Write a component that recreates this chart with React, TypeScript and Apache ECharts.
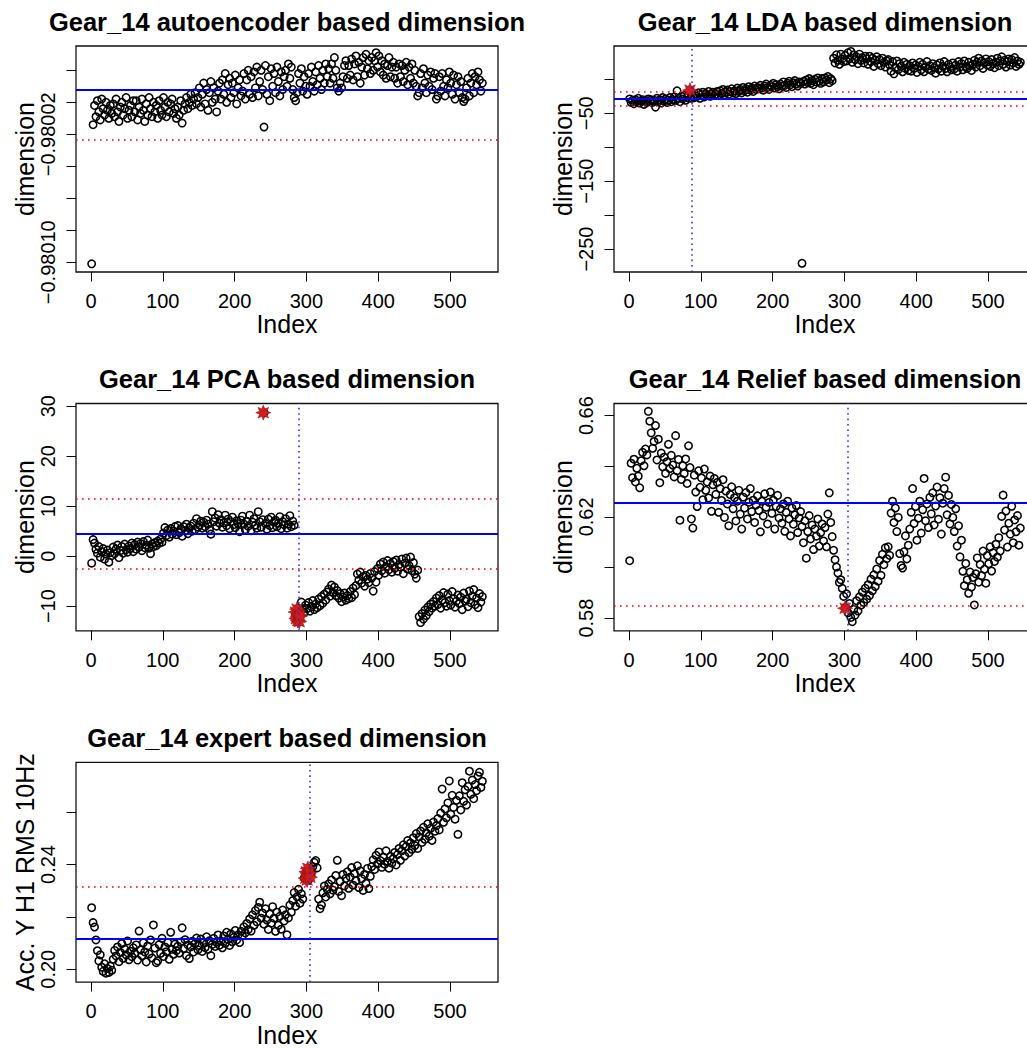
import React, { useEffect, useRef } from "react";
import * as echarts from "echarts";

// ---------- data (Index = INDEX_START + i * INDEX_STEP) ----------
const INDEX_START = 1;
const INDEX_STEP = 2;

const autoencoderDim = [
  -0.980101, -0.980014, -0.980002, -0.980009, -0.979999, -0.980006, -0.980011, -0.979998, -0.980004, -0.980008, -0.98, -0.980005, -0.98001, -0.980002, -0.980007,
  -0.980001, -0.980009, -0.979998, -0.980006, -0.980012, -0.980003, -0.98, -0.980008, -0.980004, -0.979997, -0.98001, -0.980005, -0.980002, -0.980009, -0.979999,
  -0.980006, -0.979999, -0.980011, -0.980003, -0.980007, -0.979998, -0.980005, -0.980012, -0.980001, -0.980008, -0.979997, -0.980004, -0.980009, -0.98, -0.980006,
  -0.980002, -0.98001, -0.979999, -0.980005, -0.980008, -0.979997, -0.980003, -0.980009, -0.98, -0.980006, -0.980001, -0.979998, -0.980007, -0.980004, -0.98001,
  -0.980003, -0.980008, -0.979999, -0.980013, -0.980005, -0.980001, -0.979997, -0.980004, -0.98, -0.979995, -0.980002, -0.979998, -0.979994, -0.980001, -0.979997,
  -0.979991, -0.980003, -0.979995, -0.979988, -0.980001, -0.979992, -0.980005, -0.979994, -0.979987, -0.98, -0.979991, -0.979998, -0.980006, -0.979993, -0.979988,
  -0.979998, -0.979986, -0.979995, -0.979982, -0.98, -0.979989, -0.979985, -0.979997, -0.979988, -0.979994, -0.979983, -0.980001, -0.979991, -0.979986, -0.979996,
  -0.979993, -0.979982, -0.979998, -0.979986, -0.97998, -0.979995, -0.979984, -0.979997, -0.979981, -0.979991, -0.979978, -0.979996, -0.979987, -0.97998, -0.979992,
  -0.9800155, -0.979977, -0.979995, -0.979984, -0.979999, -0.979979, -0.97999, -0.979982, -0.979994, -0.979978, -0.979987, -0.979996, -0.979981, -0.979992, -0.979984,
  -0.97998, -0.97999, -0.979976, -0.979985, -0.979978, -0.979992, -0.979997, -0.979999, -0.979994, -0.979982, -0.979988, -0.979979, -0.979993, -0.979984, -0.97999,
  -0.979995, -0.979982, -0.97999, -0.979978, -0.979987, -0.979993, -0.979981, -0.979989, -0.979977, -0.979985, -0.979992, -0.97998, -0.979988, -0.979976, -0.979984,
  -0.979979, -0.979988, -0.979976, -0.979985, -0.979972, -0.97998, -0.979991, -0.979993, -0.979988, -0.979991, -0.979984, -0.979977, -0.979974, -0.979985, -0.979977,
  -0.979983, -0.979973, -0.979986, -0.979976, -0.979971, -0.979984, -0.979975, -0.979988, -0.979978, -0.979972, -0.979983, -0.97997, -0.979979, -0.979974, -0.979982,
  -0.979972, -0.97998, -0.979974, -0.979969, -0.979978, -0.979971, -0.979981, -0.979974, -0.979983, -0.979976, -0.979985, -0.979977, -0.979972, -0.979984, -0.979978,
  -0.979975, -0.979985, -0.979978, -0.979988, -0.979976, -0.979984, -0.979977, -0.979987, -0.97998, -0.979975, -0.979989, -0.979978, -0.979985, -0.979976, -0.979988,
  -0.97998, -0.97999, -0.979996, -0.979994, -0.979982, -0.979991, -0.979979, -0.979988, -0.979994, -0.979983, -0.97999, -0.979981, -0.979992, -0.979985, -0.979982,
  -0.979998, -0.979996, -0.979984, -0.979993, -0.979982, -0.97999, -0.979996, -0.979986, -0.979991, -0.979981, -0.979988, -0.979995, -0.979983, -0.979998, -0.979989,
  -0.979984, -0.979994, -0.979987, -0.979997, -0.9799995, -0.979998, -0.979991, -0.979985, -0.979996, -0.979988, -0.979982, -0.979994, -0.979984, -0.979989, -0.979981,
  -0.979986, -0.979993, -0.979988,
];

const ldaDim = [
  -29, -34, -31, -36, -30, -33, -28, -35, -32, -30, -37, -31, -34, -29, -33,
  -30, -34, -31, -41, -28, -33, -30, -35, -27, -32, -29, -34, -31, -27, -33,
  -30, -26, -31, -17, -28, -33, -25, -29, -24, -31, -27, -23, -16, -28, -25,
  -27, -22, -25, -20, -28, -23, -19, -26, -21, -24, -18, -25, -22, -19, -24,
  -22, -18, -24, -17, -21, -15, -23, -19, -16, -22, -18, -14, -20, -17, -21,
  -13, -18, -15, -20, -12, -17, -14, -19, -11, -16, -13, -18, -10, -15, -12,
  -14, -9, -13, -16, -10, -7, -12, -15, -9, -11, -6, -13, -8, -11, -14,
  -7, -10, -4, -9, -12, -6, -3, -8, -11, -5, -2, -7, -10, -4, -6,
  -271, -3, -7, -1, -5, 1, -6, -2, -8, 0, -4, 2, -3, -6, 1,
  -4, 2, -1, 4, -5, 1, -2, 31, 24, 36, 28, 22, 37, 30, 26,
  35, 27, 39, 30, 41, 25, 36, 29, 33, 23, 37, 28, 32, 24, 34,
  30, 22, 34, 26, 31, 19, 28, 33, 23, 29, 20, 31, 25, 18, 27,
  29, 21, 12, 26, 8, 17, 27, 14, 23, 19, 11, 25, 16, 22, 13,
  20, 12, 24, 16, 21, 10, 19, 25, 14, 22, 11, 18, 26, 15, 20,
  13, 23, 17, 9, 21, 15, 24, 12, 19, 26, 16, 11, 22, 18, 14,
  24, 15, 21, 12, 26, 18, 23, 14, 27, 19, 16, 25, 20, 13, 22,
  28, 18, 25, 31, 20, 27, 16, 24, 30, 21, 26, 19, 29, 23, 17,
  25, 31, 20, 27, 33, 22, 28, 18, 26, 30, 21, 29, 24, 32, 19,
  27, 22, 25,
];

const pcaDim = [
  -1.4, 3.3, 2.6, 1.4, 0.6, 1.9, -0.2, 0.9, 1.5, -0.6, 0.4, 1.2, -1.2, 0.7, 0.1,
  1.8, 0.5, 1.4, 2.2, -0.3, 1.1, 1.9, 0.6, 2.4, 1.3, 0.8, 2.0, 1.5, 2.6, 0.9,
  2.3, 1.4, 2.8, 1.8, 2.5, 1.1, 2.9, 1.7, 2.2, 3.2, 1.6, 0.5, 2.4, 1.9, 2.7,
  2.1, 3.0, 2.6, 3.4, 2.8, 4.6, 5.7, 4.1, 5.2, 3.8, 5.5, 4.4, 5.0, 5.9, 4.3,
  6.1, 4.7, 5.4, 4.0, 5.9, 5.1, 6.4, 4.5, 5.6, 6.0, 5.0, 6.6, 5.3, 7.5, 5.8,
  6.2, 7.0, 5.6, 6.8, 5.9, 7.2, 6.4, 5.3, 4.4, 8.9, 6.9, 7.6, 6.0, 8.3, 6.6,
  7.3, 5.8, 6.7, 8.2, 6.1, 7.4, 5.5, 6.9, 7.8, 6.3, 5.7, 7.1, 6.5, 4.9, 7.2,
  8.0, 6.4, 5.3, 7.0, 6.0, 8.2, 5.1, 6.8, 7.5, 6.2, 5.6, 8.9, 6.9, 5.8, 7.3,
  28.7, 6.5, 5.4, 7.4, 6.1, 7.8, 5.7, 6.8, 7.2, 5.9, 6.6, 7.9, 5.5, 6.9, 6.3,
  7.5, 5.6, 6.4, 8.1, 5.9, 7.0, 6.2, -11.4, -12.6, -10.9, -12.3, -9.2, -10.6, -11.3, -9.8,
  -10.5, -9.3, -11.0, -10.1, -8.9, -10.7, -9.6, -10.3, -8.6, -9.9, -8.1, -9.4, -7.6, -8.8, -7.2,
  -6.6, -8.0, -5.8, -7.3, -6.2, -7.9, -6.9, -8.4, -7.5, -9.1, -8.2, -7.4, -8.8, -7.9, -8.5,
  -7.1, -8.3, -6.4, -7.7, -5.9, -3.6, -4.8, -3.2, -5.4, -4.1, -6.0, -3.9, -4.6, -5.3, -3.5,
  -4.4, -7.0, -3.1, -5.2, -2.5, -3.8, -1.6, -2.9, -1.2, -3.4, -2.1, -0.9, -2.7, -1.5, -3.2,
  -1.1, -2.4, -0.8, -3.0, -1.7, -2.2, -0.6, -3.5, -1.4, -0.4, -2.6, -1.9, -0.2, -2.9, -1.3,
  -3.6, -4.4, -2.8, -12.1, -13.3, -11.5, -12.6, -10.8, -11.9, -10.2, -11.1, -9.6, -10.4, -9.1, -10.0,
  -8.4, -9.7, -7.9, -10.4, -8.8, -7.3, -9.3, -10.0, -7.6, -8.9, -9.8, -7.1, -8.5, -10.2, -9.0,
  -7.8, -9.5, -8.2, -10.7, -7.4, -9.0, -8.6, -10.1, -7.0, -9.3, -8.0, -6.7, -9.7, -8.4, -10.3,
  -7.5, -9.2, -8.1,
];

const reliefDim = [
  0.6027, 0.6412, 0.6355, 0.6428, 0.6338, 0.6392, 0.6361, 0.6315, 0.6422, 0.6455, 0.6402, 0.6468, 0.6445, 0.6617, 0.6578,
  0.6532, 0.6471, 0.6498, 0.6561, 0.6425, 0.6507, 0.6335, 0.6452, 0.6398, 0.6436, 0.6372, 0.6418, 0.6487, 0.6391, 0.6443,
  0.6405, 0.6358, 0.6521, 0.6382, 0.6427, 0.6187, 0.6348, 0.6402, 0.6371, 0.6429, 0.6332, 0.6481, 0.6395, 0.6192, 0.6156,
  0.6365, 0.6298, 0.6241, 0.6382, 0.6317, 0.6354, 0.6268, 0.6389, 0.6305, 0.6338, 0.6275, 0.6361, 0.6222, 0.6327, 0.6352,
  0.6289, 0.6336, 0.6218, 0.6312, 0.6265, 0.6347, 0.6198, 0.6302, 0.6251, 0.6165, 0.6288, 0.6319, 0.6232, 0.6276, 0.6184,
  0.6262, 0.6305, 0.6211, 0.6152, 0.6278, 0.6235, 0.6296, 0.6192, 0.6258, 0.6312, 0.6221, 0.6266, 0.6178, 0.6247, 0.6283,
  0.6225, 0.6141, 0.6262, 0.6204, 0.6291, 0.6238, 0.6172, 0.6257, 0.6298, 0.6214, 0.6266, 0.6152, 0.6241, 0.6285, 0.6196,
  0.6232, 0.6175, 0.6251, 0.6143, 0.6218, 0.6262, 0.6192, 0.6125, 0.6235, 0.6171, 0.6208, 0.6245, 0.6138, 0.6196, 0.6221,
  0.6162, 0.6098, 0.6185, 0.6037, 0.6142, 0.6205, 0.6113, 0.6168, 0.6071, 0.6152, 0.6124, 0.6192, 0.6085, 0.6138, 0.6172,
  0.6105, 0.6158, 0.6082, 0.6211, 0.6295, 0.6178, 0.6122, 0.6068, 0.6031, 0.6002, 0.5978, 0.5941, 0.5952, 0.5918, 0.5886,
  0.5842, 0.5896, 0.5821, 0.5858, 0.5803, 0.5786, 0.5835, 0.5812, 0.5869, 0.5828, 0.5884, 0.5851, 0.5903, 0.5862, 0.5918,
  0.5875, 0.5932, 0.5889, 0.5954, 0.5908, 0.5971, 0.5925, 0.5994, 0.5946, 0.6028, 0.5969, 0.6052, 0.6011, 0.6078, 0.6035,
  0.6082, 0.6048, 0.6215, 0.6262, 0.6178, 0.6235, 0.6142, 0.6198, 0.6055, 0.6008, 0.5998, 0.6062, 0.6125, 0.6034, 0.6088,
  0.6152, 0.6218, 0.6312, 0.6174, 0.6241, 0.6108, 0.6195, 0.6262, 0.6136, 0.6228, 0.6352, 0.6185, 0.6251, 0.6158, 0.6277,
  0.6212, 0.6295, 0.6168, 0.6243, 0.6318, 0.6191, 0.6276, 0.6132, 0.6254, 0.6312, 0.6357, 0.6208, 0.6285, 0.6172, 0.6249,
  0.6198, 0.6142, 0.6232, 0.6085, 0.6165, 0.6042, 0.6108, 0.5985, 0.5928, 0.6016, 0.5952, 0.5898, 0.5982, 0.5923, 0.5961,
  0.5852, 0.5975, 0.6038, 0.5942, 0.6012, 0.5968, 0.6065, 0.5993, 0.5938, 0.6047, 0.6015, 0.6082, 0.5986, 0.6058, 0.6024,
  0.6092, 0.6041, 0.6118, 0.6065, 0.6202, 0.6286, 0.6148, 0.6223, 0.6081, 0.6175, 0.6132, 0.6242, 0.6098, 0.6188, 0.6141,
  0.6205, 0.6088, 0.6156,
];

const expertDim = [
  0.2235, 0.2178, 0.2161, 0.2112, 0.2071, 0.2032, 0.2055, 0.2008, 0.1992, 0.2021, 0.1985, 0.2003, 0.1988, 0.2012, 0.1996,
  0.2038, 0.2072, 0.2051, 0.2085, 0.2029, 0.2064, 0.2098, 0.2042, 0.2077, 0.2055, 0.2108, 0.2036, 0.2069, 0.2048, 0.2082,
  0.2061, 0.2093, 0.2035, 0.2146, 0.2074, 0.2052, 0.2101, 0.2066, 0.2028, 0.2089, 0.2058, 0.2112, 0.2043, 0.2169, 0.2081,
  0.2025, 0.2032, 0.2094, 0.2061, 0.2118, 0.2049, 0.2085, 0.2067, 0.2102, 0.2038, 0.2141, 0.2076, 0.2057, 0.2096, 0.2071,
  0.2088, 0.2062, 0.2104, 0.2158, 0.2079, 0.2113, 0.2052, 0.2093, 0.2041, 0.2085, 0.2107, 0.2066, 0.2098, 0.2119, 0.2074,
  0.2091, 0.2115, 0.2068, 0.2102, 0.2083, 0.2124, 0.2076, 0.2109, 0.2052, 0.2095, 0.2118, 0.2087, 0.2103, 0.2131, 0.2092,
  0.2108, 0.2082, 0.2127, 0.2099, 0.2141, 0.2114, 0.2091, 0.2135, 0.2105, 0.2122, 0.2148, 0.2112, 0.2131, 0.2102, 0.2145,
  0.2128, 0.2162, 0.2139, 0.2175, 0.2151, 0.2192, 0.2146, 0.2208, 0.2168, 0.2224, 0.2181, 0.2236, 0.2256, 0.2195, 0.2215,
  0.2172, 0.2231, 0.2188, 0.2152, 0.2211, 0.2176, 0.2239, 0.2195, 0.2145, 0.2218, 0.2168, 0.2202, 0.2153, 0.2226, 0.2184,
  0.2208, 0.2132, 0.2196, 0.2245, 0.2218, 0.2262, 0.2293, 0.2241, 0.2276, 0.2305, 0.2252, 0.2288, 0.2268, 0.2348, 0.2355,
  0.2372, 0.2341, 0.2385, 0.2368, 0.2392, 0.2408, 0.2415, 0.2387, 0.2268, 0.2231, 0.2245, 0.2292, 0.2318, 0.2276, 0.2305,
  0.2326, 0.2288, 0.2341, 0.2302, 0.2315, 0.2358, 0.2416, 0.2297, 0.2335, 0.2281, 0.2362, 0.2318, 0.2347, 0.2372, 0.2309,
  0.2352, 0.2388, 0.2321, 0.2365, 0.2338, 0.2395, 0.2312, 0.2376, 0.2346, 0.2301, 0.2362, 0.2328, 0.2385, 0.2308, 0.2355,
  0.2392, 0.2418, 0.2381, 0.2435, 0.2402, 0.2448, 0.2415, 0.2389, 0.2428, 0.2401, 0.2452, 0.2412, 0.2386, 0.2431, 0.2405,
  0.2422, 0.2446, 0.2398, 0.2438, 0.2461, 0.2416, 0.2452, 0.2475, 0.2432, 0.2468, 0.2491, 0.2445, 0.2482, 0.2458, 0.2502,
  0.2472, 0.2518, 0.2461, 0.2505, 0.2528, 0.2484, 0.2542, 0.2496, 0.2521, 0.2555, 0.2508, 0.2538, 0.2492, 0.2562, 0.2527,
  0.2548, 0.2575, 0.2532, 0.2596, 0.2688, 0.2561, 0.2612, 0.2578, 0.2635, 0.2719, 0.2592, 0.2664, 0.2618, 0.2573, 0.2645,
  0.2515, 0.2662, 0.2608, 0.2712, 0.2641, 0.2685, 0.2627, 0.2698, 0.2756, 0.2668, 0.2722, 0.2651, 0.2705, 0.2682, 0.2738,
  0.2752, 0.2694, 0.2718,
];

// flagged (red) points: index and value
const ldaFlagIndex = [85];
const ldaFlagValue = [-16];
const pcaFlagIndex = [240, 285, 286, 287, 288, 289, 290, 291];
const pcaFlagValue = [28.7, -11.2, -12.5, -10.6, -12.9, -11.7, -13.1, -12.0];
const reliefFlagIndex = [301];
const reliefFlagValue = [0.5839];
const expertFlagIndex = [299, 300, 301, 302, 303, 304, 305];
const expertFlagValue = [0.2348, 0.2372, 0.2341, 0.2385, 0.2356, 0.2368, 0.2351];

// reference lines: mean (blue), limits (red dotted), change index (blue dotted)
const autoencoderMean = -0.9799923;
const autoencoderLimits = [-0.9800236];
const ldaMean = -28.5;
const ldaLimits = [-18.7, -39.3];
const ldaChange = 87;
const pcaMean = 4.47;
const pcaLimits = [11.5, -2.6];
const pcaChange = 290;
const reliefMean = 0.6257;
const reliefLimits = [0.5849];
const reliefChange = 304;
const expertMean = 0.2117;
const expertLimits = [0.2314];
const expertChange = 304;

// tick labels
const xTicks = [0, 100, 200, 300, 400, 500];
const autoencoderTicks = [-0.9801, -0.98008, -0.98006, -0.98004, -0.98002, -0.98, -0.97998];
const autoencoderLabels = [-0.9801, -0.98002];
const ldaTicks = [-250, -200, -150, -100, -50, 0];
const ldaLabels = [-250, -150, -50];
const pcaTicks = [-10, 0, 10, 20, 30];
const pcaLabels = [-10, 0, 10, 20, 30];
const reliefTicks = [0.58, 0.6, 0.62, 0.64, 0.66];
const reliefLabels = [0.58, 0.62, 0.66];
const expertTicks = [0.2, 0.22, 0.24, 0.26];
const expertLabels = [0.2, 0.24];

// ---------- layout / style ----------
const FONT = '"Liberation Sans", Arial, Helvetica, sans-serif';
const MINUS = "\u2212";

const starSymbol = (() => {
  const pts: string[] = [];
  for (let k = 0; k < 16; k++) {
    const a = -Math.PI / 2 + (k * Math.PI) / 8;
    const r = k % 2 === 0 ? 50 : 26;
    pts.push(`${(50 + r * Math.cos(a)).toFixed(2)} ${(50 + r * Math.sin(a)).toFixed(2)}`);
  }
  return "path://M" + pts.join(" L") + " Z";
})();

const fmt = (digits: number) => (v: number) => v.toFixed(digits).replace("-", MINUS);

const panels = [
  {
    title: "Gear_14 autoencoder based dimension",
    yName: "dimension",
    values: autoencoderDim,
    flagIndex: [] as number[],
    flagValue: [] as number[],
    mean: autoencoderMean,
    limits: autoencoderLimits,
    change: null as number | null,
    ticks: autoencoderTicks,
    labels: autoencoderLabels,
    format: fmt(5),
    yMin: -0.9801061,
    yMax: -0.9799648,
    grid: { left: 76, top: 46, width: 422, height: 226 },
  },
  {
    title: "Gear_14 LDA based dimension",
    yName: "dimension",
    values: ldaDim,
    flagIndex: ldaFlagIndex,
    flagValue: ldaFlagValue,
    mean: ldaMean,
    limits: ldaLimits,
    change: ldaChange,
    ticks: ldaTicks,
    labels: ldaLabels,
    format: fmt(0),
    yMin: -283.8,
    yMax: 49,
    grid: { left: 614, top: 46, width: 422, height: 226 },
  },
  {
    title: "Gear_14 PCA based dimension",
    yName: "dimension",
    values: pcaDim,
    flagIndex: pcaFlagIndex,
    flagValue: pcaFlagValue,
    mean: pcaMean,
    limits: pcaLimits,
    change: pcaChange,
    ticks: pcaTicks,
    labels: pcaLabels,
    format: fmt(0),
    yMin: -14.94,
    yMax: 30.54,
    grid: { left: 76, top: 403.5, width: 422, height: 227.3 },
  },
  {
    title: "Gear_14 Relief based dimension",
    yName: "dimension",
    values: reliefDim,
    flagIndex: reliefFlagIndex,
    flagValue: reliefFlagValue,
    mean: reliefMean,
    limits: reliefLimits,
    change: reliefChange,
    ticks: reliefTicks,
    labels: reliefLabels,
    format: fmt(2),
    yMin: 0.575,
    yMax: 0.6648,
    grid: { left: 614, top: 403.5, width: 422, height: 227.3 },
  },
  {
    title: "Gear_14 expert based dimension",
    yName: "Acc. Y H1 RMS 10Hz",
    values: expertDim,
    flagIndex: expertFlagIndex,
    flagValue: expertFlagValue,
    mean: expertMean,
    limits: expertLimits,
    change: expertChange,
    ticks: expertTicks,
    labels: expertLabels,
    format: fmt(2),
    yMin: 0.1951,
    yMax: 0.279,
    grid: { left: 76, top: 762.3, width: 422, height: 226.7 },
  },
];

function buildOption() {
  const grid: any[] = [];
  const xAxis: any[] = [];
  const yAxis: any[] = [];
  const series: any[] = [];
  const graphic: any[] = [];

  panels.forEach((p, k) => {
    grid.push({
      ...p.grid,
      show: true,
      borderColor: "#111",
      borderWidth: 1.3,
      backgroundColor: "transparent",
    });
    xAxis.push({
      gridIndex: k,
      type: "value",
      min: -20.8,
      max: 566.8,
      axisLine: { show: false, onZero: false },
      splitLine: { show: false },
      axisTick: { show: true, inside: false, length: 9.5, customValues: xTicks, lineStyle: { color: "#000", width: 1 } },
      axisLabel: {
        show: true,
        customValues: xTicks,
        margin: 19,
        color: "#000",
        fontSize: 20,
        fontFamily: FONT,
        formatter: (v: number) => String(v),
      },
      name: "Index",
      nameLocation: "middle",
      nameGap: 31,
      nameTextStyle: { color: "#000", fontSize: 25, fontFamily: FONT },
    });
    yAxis.push({
      gridIndex: k,
      type: "value",
      min: p.yMin,
      max: p.yMax,
      axisLine: { show: false, onZero: false },
      splitLine: { show: false },
      axisTick: { show: true, inside: false, length: 9.5, customValues: p.ticks, lineStyle: { color: "#000", width: 1 } },
      axisLabel: {
        show: true,
        rotate: 90,
        customValues: p.labels,
        margin: 18,
        color: "#000",
        fontSize: 20,
        fontFamily: FONT,
        formatter: p.format,
      },
      name: p.yName,
      nameLocation: "middle",
      nameGap: 39,
      nameTextStyle: { color: "#000", fontSize: 25, fontFamily: FONT },
    });

    const markData: any[] = [
      { yAxis: p.mean, lineStyle: { color: "#0000ff", type: "solid", width: 2 } },
      ...p.limits.map((v) => ({ yAxis: v, lineStyle: { color: "#ff0000", type: [1.6, 4.4], width: 1.6 } })),
    ];
    if (p.change !== null) {
      markData.push({ xAxis: p.change, lineStyle: { color: "#2222ff", type: [1.6, 3.8], width: 1.5 } });
    }

    series.push({
      type: "scatter",
      xAxisIndex: k,
      yAxisIndex: k,
      data: p.values.map((v, i) => [INDEX_START + i * INDEX_STEP, v]),
      symbol: "circle",
      symbolSize: 7.4,
      itemStyle: { color: "rgba(0,0,0,0)", borderColor: "#000", borderWidth: 1.55, opacity: 1 },
      silent: true,
      markLine: {
        silent: true,
        precision: 10,
        symbol: ["none", "none"],
        label: { show: false },
        data: markData,
        animation: false,
      },
    });
    if (p.flagIndex.length) {
      series.push({
        type: "scatter",
        xAxisIndex: k,
        yAxisIndex: k,
        data: p.flagIndex.map((x, i) => [x, p.flagValue[i]]),
        symbol: starSymbol,
        symbolSize: 15,
        itemStyle: { color: "#d11d1d", borderColor: "#9a1010", borderWidth: 0.6, opacity: 1 },
        silent: true,
      });
    }

    graphic.push({
      type: "text",
      x: p.grid.left + p.grid.width / 2,
      y: p.grid.top - 24.5,
      style: {
        text: p.title,
        font: `bold 25.5px ${FONT}`,
        fill: "#000",
        textAlign: "center",
        textVerticalAlign: "middle",
      },
    });
  });

  return {
    animation: false,
    backgroundColor: "#ffffff",
    grid,
    xAxis,
    yAxis,
    series,
    graphic,
  };
}

export default function App() {
  const ref = useRef<HTMLDivElement>(null);
  useEffect(() => {
    if (!ref.current) return;
    const chart = echarts.init(ref.current, null, { renderer: "svg" });
    chart.setOption(buildOption() as any);
    return () => chart.dispose();
  }, []);
  return (
    <div
      style={{
        position: "absolute",
        left: 0,
        top: 0,
        width: 1027,
        height: 1048,
        overflow: "hidden",
        background: "#fff",
      }}
    >
      <div ref={ref} style={{ width: 1076, height: 1048 }} />
    </div>
  );
}
